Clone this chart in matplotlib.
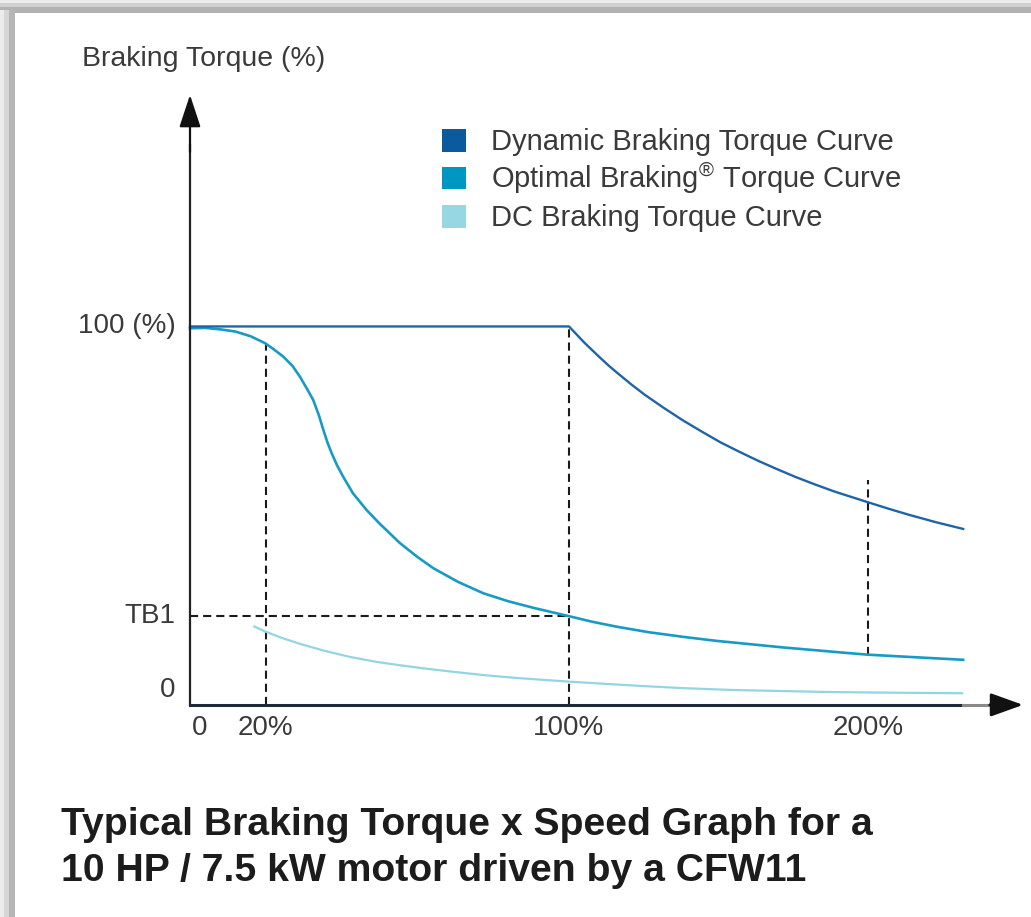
import matplotlib
matplotlib.use('Agg')
import matplotlib.pyplot as plt
from matplotlib.patches import Rectangle

plt.rcParams['font.family'] = ['Liberation Sans', 'DejaVu Sans']
plt.rcParams['mathtext.fontset'] = 'custom'
plt.rcParams['mathtext.rm'] = 'Liberation Sans'
plt.rcParams['mathtext.it'] = 'Liberation Sans:italic'
plt.rcParams['mathtext.bf'] = 'Liberation Sans:bold'

# ---------------- data ----------------
speed_ticks = [0, 20, 100, 179]
speed_labels = ['0', '20%', '100%', '200%']
tb1 = 20.3
torque_ticks = [0, tb1, 100]
torque_labels = ['0', 'TB1', '100 (%)']

dyn_speed = [0, 100, 102, 104, 106, 108, 110.5, 113, 116.5, 120, 125, 130, 135, 140, 145,
             150, 155, 160, 165, 170, 174.5, 179, 184.5, 190, 197, 204]
dyn_torque = [100, 100, 97.8, 95.6, 93.6, 91.6, 89.2, 87.0, 84.0, 81.2, 77.6, 74.2, 71.1, 68.1, 65.5,
              63.0, 60.7, 58.5, 56.5, 54.6, 53.1, 51.6, 49.8, 48.1, 46.1, 44.3]

opt_speed = [0, 4, 8, 12, 16, 19.8, 22, 24.6, 27, 29, 31, 32.5, 34, 35.2, 36.3, 37.4, 38.8,
             40.4, 43, 46.6, 50, 55.4, 60, 64.2, 70.8, 77.4, 84, 90.6, 100, 106, 112.6, 121,
             130.2, 139, 147.8, 156.5, 165.4, 172, 179, 191.5, 204]
opt_torque = [99.5, 99.6, 99.2, 98.6, 97.3, 95.4, 93.8, 91.7, 89.2, 86.2, 82.6, 79.8, 75.6, 71.5,
              68.0, 65.1, 61.8, 58.7, 54.1, 49.5, 45.8, 40.4, 36.6, 33.5, 29.7, 26.6, 24.4, 22.6,
              20.3, 18.8, 17.4, 15.9, 14.6, 13.5, 12.6, 11.7, 10.9, 10.3, 9.7, 9.0, 8.3]

dc_speed = [16.7, 19.8, 24, 29, 35, 42.2, 48.8, 55.4, 62, 68.6, 77.4, 86.2, 93, 100, 112.6, 121,
            130.2, 143, 156.5, 168, 180, 192, 204]
dc_torque = [17.6, 16.1, 14.4, 12.7, 10.9, 9.1, 7.8, 6.8, 5.9, 5.1, 4.1, 3.3, 2.8, 2.3, 1.5, 1.0,
             0.5, 0.0, -0.3, -0.55, -0.7, -0.8, -0.9]

guide_speed = [20, 100, 179]
guide_top = [95.3, 100, 57.8]
guide_bottom = [None, None, 9.7]   # None -> down to the x axis

legend_labels = ['Dynamic Braking Torque Curve',
                 'Optimal Braking$^{\\circledR}$ Torque Curve',
                 'DC Braking Torque Curve']
title_lines = ['Typical Braking Torque x Speed Graph for a',
               '10 HP / 7.5 kW motor driven by a CFW11']
y_title = 'Braking Torque (%)'

# ---------------- styles ----------------
c_dyn, c_opt, c_dc = '#1f64a6', '#179bc5', '#93d5e3'
leg_colors = ['#0a5aa0', '#0096c3', '#96d7e3']
txt_col = '#3a3a3a'

W, H = 1031, 917
fig = plt.figure(figsize=(W / 100, H / 100), dpi=100)
fig.patch.set_facecolor('white')


def fx(px):
    return px / W


def fy(py):
    return 1 - py / H


# frame shadow (top and left)
for (y0, y1, col) in [(0, 3, '#ececec'), (3, 7, '#d0d0d0'), (7, 13, '#b2b2b2')]:
    fig.add_artist(Rectangle((0, fy(y1)), 1, (y1 - y0) / H, transform=fig.transFigure,
                             facecolor=col, edgecolor='none', zorder=0))
for (x0, x1, col) in [(0, 4, '#ececec'), (4, 9, '#d6d6d6'), (9, 15, '#b6b6b6')]:
    fig.add_artist(Rectangle((fx(x0), 0), (x1 - x0) / W, fy(10), transform=fig.transFigure,
                             facecolor=col, edgecolor='none', zorder=0))

ax = fig.add_axes([0, 0, 1, 1])
ax.set_xlim(-50.13, 221.9)
ax.set_ylim(-62.45, 189.8)
ax.axis('off')

axis_y = -4.1
x_end = 204
x_arrow = 219.8
y_arrow = 163.7

# axes lines
ax.plot([0, 0], [axis_y, 150], color='#222222', lw=1.6, zorder=5, solid_capstyle='projecting')
ax.plot([0, x_end], [axis_y, axis_y], color='#1e2a3a', lw=2.2, zorder=5, solid_capstyle='projecting')
ax.plot([x_end, 212], [axis_y, axis_y], color='#8a8a8a', lw=2.2, zorder=5)
ax.annotate('', xy=(0, y_arrow), xytext=(0, 148),
            arrowprops=dict(arrowstyle='-|>,head_length=1.0,head_width=0.33', color='#111111',
                            lw=1.6, mutation_scale=20, shrinkA=0, shrinkB=0), zorder=6)
ax.annotate('', xy=(x_arrow, axis_y), xytext=(211, axis_y),
            arrowprops=dict(arrowstyle='-|>,head_length=1.0,head_width=0.36', color='#111111',
                            lw=2.0, mutation_scale=20, shrinkA=0, shrinkB=0), zorder=6)

# dashed guides
dash = (0, (3.9, 2.4))
for xs, top, bot in zip(guide_speed, guide_top, guide_bottom):
    b = axis_y if bot is None else bot
    ax.plot([xs, xs], [b, top], color='#1a1a1a', lw=1.5, linestyle=dash, zorder=3)
ax.plot([0, 100], [tb1, tb1], color='#1a1a1a', lw=1.5, linestyle=dash, zorder=3)

# curves
ax.plot(dc_speed, dc_torque, color=c_dc, lw=1.6, zorder=4, solid_capstyle='butt',
        solid_joinstyle='round')
ax.plot(opt_speed, opt_torque, color=c_opt, lw=1.9, zorder=4, solid_joinstyle='round')
ax.plot(dyn_speed, dyn_torque, color=c_dyn, lw=1.7, zorder=4, solid_joinstyle='round')

# tick labels
for v, lab in zip(speed_ticks, speed_labels):
    ha = 'left' if v == 0 else 'center'
    ax.annotate(lab, xy=(v, axis_y), xytext=(1.5 if v == 0 else 0, -16.5),
                textcoords='offset points', ha=ha, va='center', fontsize=20, color=txt_col)
for v, lab in zip(torque_ticks, torque_labels):
    ax.annotate(lab, xy=(0, v), xytext=(-10.5, 0), textcoords='offset points',
                ha='right', va='center', fontsize=20, color=txt_col)

# y axis title
fig.text(fx(82), fy(66), y_title, ha='left', va='baseline', fontsize=20.5, color=txt_col)

# legend
rows_y = [140.5, 178, 216.5]
for yc, col, lab in zip(rows_y, leg_colors, legend_labels):
    fig.add_artist(Rectangle((fx(442), fy(yc + 11)), 24 / W, 22 / H, transform=fig.transFigure,
                             facecolor=col, edgecolor='none'))
    fig.text(fx(491), fy(yc + 10), lab, ha='left', va='baseline', fontsize=21, color=txt_col)

# title
fig.text(fx(61), fy(835), title_lines[0], ha='left', va='baseline', fontsize=28.2,
         fontweight='bold', color='#1c1c1c')
fig.text(fx(61), fy(881), title_lines[1], ha='left', va='baseline', fontsize=28.2,
         fontweight='bold', color='#1c1c1c')

fig.savefig('out.png', dpi=100, facecolor='white')
